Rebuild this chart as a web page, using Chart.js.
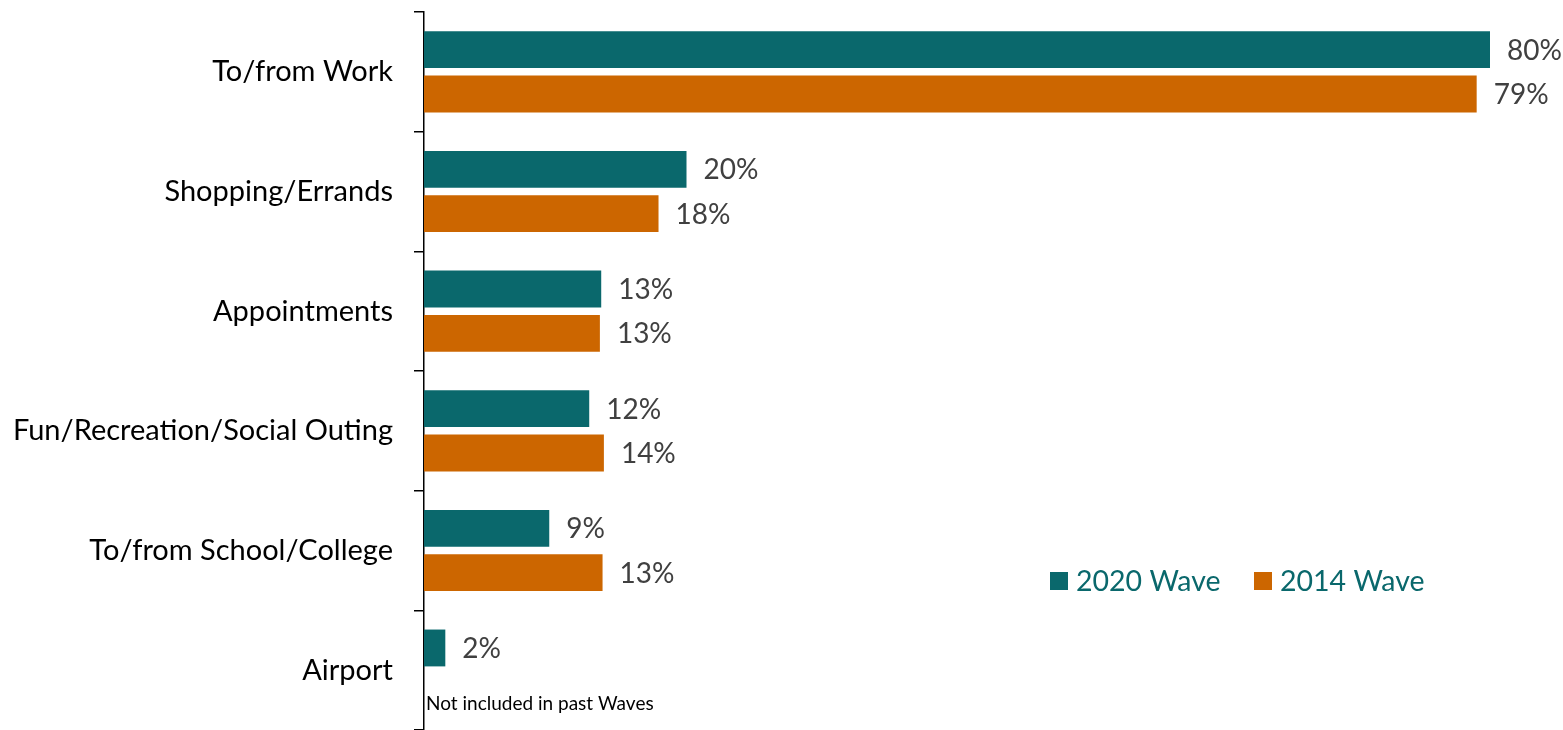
<!DOCTYPE html>
<html>
<head>
<meta charset="utf-8">
<script src="https://cdn.jsdelivr.net/npm/chart.js@4.4.1/dist/chart.umd.min.js"></script>
<style>
  html, body { margin: 0; padding: 0; background: #fff; }
  #wrap { position: relative; width: 1563px; height: 730px; }
</style>
</head>
<body>
<div id="wrap"><canvas id="tripChart" width="1563" height="730"></canvas></div>
<script>
// Trip purposes
const categories = ['To/from Work', 'Shopping/Errands', 'Appointments', 'Fun/Recreation/Social Outing', 'To/from School/College', 'Airport'];
// share of respondents (%)
const wave2020 = [80, 19.7, 13.3, 12.4, 9.4, 1.6];
const wave2014 = [79, 17.6, 13.2, 13.5, 13.4, null];
const seriesNames = ['2020 Wave', '2014 Wave'];
const footNote = 'Not included in past Waves';

const TEAL = '#0a686c';
const ORANGE = '#cc6600';
const FONT = 'Lato, "Open Sans", sans-serif';

// value labels to the right of each bar
const valueLabels = {
    id: 'valueLabels',
    afterDatasetsDraw(chart) {
        const ctx = chart.ctx;
        ctx.save();
        ctx.fillStyle = '#404040';
        ctx.font = '28px ' + FONT;
        ctx.textBaseline = 'middle';
        chart.data.datasets.forEach((ds, i) => {
            chart.getDatasetMeta(i).data.forEach((bar, j) => {
                const v = ds.data[j];
                if (v == null) return;
                ctx.fillText(Math.round(v) + '%', bar.x + 17, bar.y + 1);
            });
        });
        ctx.restore();
    }
};

// legend box inside the plot + note under Airport
const extras = {
    id: 'extras',
    afterDraw(chart) {
        const ctx = chart.ctx;
        const a = chart.chartArea;
        ctx.save();
        const items = [
            { x: 1050, color: TEAL, text: seriesNames[0] },
            { x: 1254, color: ORANGE, text: seriesNames[1] }
        ];
        ctx.font = '28.5px ' + FONT;
        ctx.textBaseline = 'middle';
        items.forEach(it => {
            ctx.fillStyle = it.color;
            ctx.fillRect(it.x, 572, 18, 18);
            ctx.fillStyle = TEAL;
            ctx.fillText(it.text, it.x + 26, 582);
        });
        ctx.fillStyle = '#000';
        ctx.font = '19px ' + FONT;
        ctx.textBaseline = 'alphabetic';
        ctx.fillText(footNote, a.left + 2, 710);
        ctx.restore();
    }
};

new Chart(document.getElementById('tripChart'), {
    type: 'bar',
    data: {
        labels: categories,
        datasets: [
            { label: seriesNames[0], data: wave2020, backgroundColor: TEAL },
            { label: seriesNames[1], data: wave2014, backgroundColor: ORANGE }
        ]
    },
    options: {
        indexAxis: 'y',
        responsive: false,
        animation: false,
        devicePixelRatio: 1,
        layout: { padding: { top: 12, right: 73, bottom: 0, left: 0 } },
        datasets: {
            bar: { categoryPercentage: 0.742, barPercentage: 0.83 }
        },
        plugins: {
            legend: { display: false },
            tooltip: { enabled: false }
        },
        scales: {
            x: { display: false, min: 0, max: 80 },
            y: {
                afterFit(scale) {
                    scale.width = 424;
                    scale.paddingTop = 0;
                    scale.paddingBottom = 0;
                },
                border: { display: true, color: '#000', width: 1.5 },
                grid: {
                    offset: true,
                    drawOnChartArea: false,
                    drawTicks: true,
                    tickLength: 10,
                    color: '#000',
                    lineWidth: 1.5
                },
                ticks: {
                    color: '#000',
                    padding: 21,
                    font: { family: FONT, size: 29 }
                }
            }
        }
    },
    plugins: [valueLabels, extras]
});
</script>
</body>
</html>
